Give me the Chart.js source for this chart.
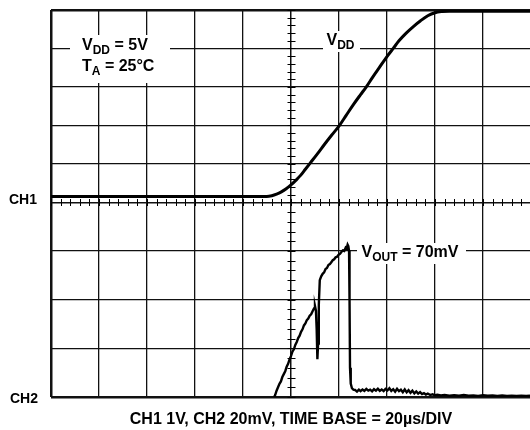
<!DOCTYPE html>
<html><head><meta charset="utf-8">
<script src="https://cdn.jsdelivr.net/npm/chart.js@4/dist/chart.umd.min.js"></script>
<style>html,body{margin:0;padding:0;background:#fff;}#wrap{width:530px;height:430px;}</style>
</head><body><div id="wrap"><canvas id="c" width="530" height="430"></canvas></div>
<script>
// ---- data (time in µs, CH1 in V, CH2 in mV) ----
const timeTicks = [0, 20, 40, 60, 80, 100, 120, 140, 160, 180];
const ch1Ticks = [0, 1, 2, 3, 4, 5];
const ch2Ticks = [0, 20, 40, 60, 80];

const ch1Time  = [0, 40, 85, 89.9, 92, 94, 96, 98, 100, 102, 104, 106, 108, 111, 114, 117, 120, 123, 126, 129, 131.25, 134, 137, 140, 142.6, 145, 148, 151, 154, 157, 160, 163, 166, 199.6];
const ch1Volts = [0.15, 0.15, 0.15, 0.15, 0.17, 0.21, 0.27, 0.35, 0.45, 0.57, 0.70, 0.86, 1.02, 1.26, 1.51, 1.75, 1.98, 2.26, 2.54, 2.80, 2.99, 3.25, 3.52, 3.79, 4.0, 4.2, 4.40, 4.57, 4.72, 4.85, 4.93, 4.96, 4.97, 4.97];

const ch2Time = [93.0, 93.4, 94.0, 94.6, 95.2, 95.8, 96.4, 97.0, 97.6, 98.2, 98.8, 99.4, 100.0, 100.6, 101.2, 101.8, 102.4, 103.0, 103.6, 104.2, 104.8, 105.4, 106.0, 106.6, 107.2, 107.8, 108.4, 109.0, 109.6, 110.0, 110.4, 110.7, 111.0, 111.3, 111.6, 112.0, 112.6, 113.2, 113.8, 114.4, 115.0, 115.6, 116.2, 116.8, 117.4, 118.0, 118.6, 119.2, 119.8, 120.4, 121.0, 121.6, 122.2, 122.8, 123.2, 123.6, 123.9, 124.2, 124.4, 124.6, 124.9, 125.4, 126.0, 126.7, 127.5, 128.3, 129.0, 129.8, 130.6, 131.4, 132.2, 133.0, 133.8, 134.6, 135.4, 136.2, 137.0, 137.8, 138.6, 139.4, 140.2, 141.0, 141.8, 142.6, 143.4, 144.2, 145.0, 145.8, 146.6, 147.4, 148.2, 149.0, 149.8, 150.6, 151.4, 152.2, 153.0, 153.8, 154.6, 155.4, 156.2, 157.0, 158.0, 159.0, 160.0, 161.0, 162.5, 164, 166, 168, 170, 172, 174, 176, 178, 180, 182, 184, 186, 188, 190, 192, 194, 196, 198, 199.6];
const ch2MilliVolts = [0, 0.8, 2.6, 4.0, 5.4, 6.4, 8.2, 9.4, 10.6, 12.4, 13.6, 15.4, 16.8, 18.6, 19.6, 21.4, 22.6, 24.2, 25.2, 26.8, 27.8, 29.4, 30.2, 31.6, 32.2, 33.4, 34.0, 35.2, 36.4, 37.4, 35.5, 28, 15.5, 22, 38, 48.0, 49.6, 50.6, 51.2, 52.6, 53.0, 54.2, 54.6, 55.4, 56.2, 56.6, 57.4, 57.6, 58.4, 58.8, 59.6, 60.2, 60.0, 61.4, 61.0, 62.6, 62.0, 60, 40, 12, 5.5, 3.6, 3.0, 2.9, 2.2, 3.0, 2.4, 3.1, 2.5, 3.3, 2.6, 3.0, 2.3, 3.2, 2.6, 3.4, 2.5, 3.1, 2.4, 3.3, 2.7, 3.6, 2.5, 3.2, 2.2, 3.4, 2.4, 3.0, 2.0, 3.1, 1.9, 2.8, 1.7, 2.6, 1.5, 2.3, 1.4, 2.0, 1.2, 1.6, 1.0, 1.4, 0.8, 1.1, 0.7, 0.9, 0.6, 0.8, 0.5, 0.7, 0.5, 0.8, 0.5, 0.6, 0.4, 0.7, 0.5, 0.6, 0.4, 0.6, 0.4, 0.5, 0.4, 0.5, 0.4, 0.5];

const FONT = '"Liberation Sans", Arial, Helvetica, sans-serif';
const INK = '#000';
const GRID = '#111';

function pts(xs, ys) { return xs.map((x, i) => ({x: x, y: ys[i]})); }

function drawRich(ctx, parts, x, baseline, size) {
  let cx = x;
  for (const p of parts) {
    const fs = p.sub ? Math.round(size * 0.75) : size;
    ctx.font = 'bold ' + fs + 'px ' + FONT;
    ctx.fillText(p.t, cx, baseline + (p.sub ? 4 : 0));
    cx += ctx.measureText(p.t).width;
  }
}

const scopePlugin = {
  id: 'scope',
  beforeDatasetsDraw(chart) {
    const ctx = chart.ctx, xs = chart.scales.x, y1 = chart.scales.yCh1, y2 = chart.scales.yCh2;
    const ca = chart.chartArea;
    ctx.save();
    ctx.strokeStyle = INK; ctx.lineWidth = 1;
    // minor ticks on horizontal center line
    const yc = Math.round(y1.getPixelForValue(0)) + 0.5;
    ctx.beginPath();
    for (let t = 0; t <= 200; t += 4) {
      const px = Math.round(xs.getPixelForValue(t)) + 0.5;
      if (px > ca.right) break;
      ctx.moveTo(px, yc - 3.5); ctx.lineTo(px, yc + 3.5);
    }
    // minor ticks on vertical center line
    const xc = Math.round(xs.getPixelForValue(100)) + 0.5;
    for (let v = 0; v <= 5.001; v += 0.2) {
      const py = Math.round(y1.getPixelForValue(v)) + 0.5;
      ctx.moveTo(xc - 4, py); ctx.lineTo(xc + 4, py);
    }
    for (let v = 0; v <= 80.001; v += 4) {
      const py = Math.round(y2.getPixelForValue(v)) + 0.5;
      ctx.moveTo(xc - 4, py); ctx.lineTo(xc + 4, py);
    }
    ctx.stroke();
    ctx.restore();
  },
  afterDatasetsDraw(chart) {
    const ctx = chart.ctx;
    ctx.save();
    // white label backgrounds (break the graticule)
    ctx.fillStyle = '#fff';
    ctx.fillRect(70, 35, 100, 48);
    ctx.fillRect(323, 31, 37, 21);
    ctx.fillRect(357, 243, 109, 21);
    ctx.fillStyle = INK;
    ctx.textBaseline = 'alphabetic';
    ctx.textAlign = 'left';
    drawRich(ctx, [{t: 'V'}, {t: 'DD', sub: true}, {t: ' = 5V'}], 82, 49.5, 16);
    drawRich(ctx, [{t: 'T'}, {t: 'A', sub: true}, {t: ' = 25°C'}], 82, 71, 16);
    drawRich(ctx, [{t: 'V'}, {t: 'DD', sub: true}], 326.5, 44.5, 16);
    drawRich(ctx, [{t: 'V'}, {t: 'OUT', sub: true}, {t: ' = 70mV'}], 361.5, 256.5, 16);
    // channel markers
    ctx.font = 'bold 14px ' + FONT;
    ctx.fillText('CH1', 9, 204);
    ctx.fillText('CH2', 10, 402.5);
    // bottom caption
    ctx.font = 'bold 16px ' + FONT;
    ctx.textAlign = 'center';
    ctx.fillText('CH1 1V, CH2 20mV, TIME BASE = 20µs/DIV', 291, 424);
    ctx.restore();
  }
};

function gridW(edge, center) {
  return ctx => {
    const v = ctx.tick ? ctx.tick.value : null;
    if (v === edge) return 2.5;
    if (v === center) return 1.5;
    return 1.3;
  };
}

new Chart(document.getElementById('c'), {
  type: 'scatter',
  data: {
    datasets: [
      { label: 'CH1 (V_DD)', data: pts(ch1Time, ch1Volts), xAxisID: 'x', yAxisID: 'yCh1',
        showLine: true, borderColor: INK, borderWidth: 3, pointRadius: 0,
        cubicInterpolationMode: 'monotone' },
      { label: 'CH2 (V_OUT)', data: pts(ch2Time, ch2MilliVolts), xAxisID: 'x', yAxisID: 'yCh2',
        showLine: true, borderColor: INK, borderWidth: 2.4, pointRadius: 0, tension: 0 }
    ]
  },
  options: {
    responsive: false, animation: false, devicePixelRatio: 1,
    layout: { padding: { left: 51, top: 10, right: 0, bottom: 33 } },
    plugins: { legend: { display: false }, tooltip: { enabled: false }, title: { display: false } },
    scales: {
      x: {
        type: 'linear', position: 'bottom', min: 0, max: 199.6,
        afterBuildTicks: s => { s.ticks = timeTicks.map(v => ({value: v})); },
        afterFit: s => { s.height = 0; },
        ticks: { display: false },
        border: { display: false },
        grid: { drawTicks: false, color: GRID, lineWidth: gridW(0, 100) }
      },
      yCh2: {
        type: 'linear', position: 'left', stack: 'scope', stackWeight: 194.7, min: 0, max: 80,
        afterBuildTicks: s => { s.ticks = ch2Ticks.map(v => ({value: v})); },
        afterFit: s => { s.width = 0; },
        ticks: { display: false },
        border: { display: false },
        grid: { drawTicks: false, color: GRID,
          lineWidth: ctx => ctx.tick && ctx.tick.value === 0 ? 2.5 : (ctx.tick && ctx.tick.value === 80 ? 0 : 1.3) }
      },
      yCh1: {
        type: 'linear', position: 'left', stack: 'scope', stackWeight: 192.3, min: 0, max: 5,
        afterBuildTicks: s => { s.ticks = ch1Ticks.map(v => ({value: v})); },
        afterFit: s => { s.width = 0; },
        ticks: { display: false },
        border: { display: false },
        grid: { drawTicks: false, color: GRID, lineWidth: gridW(5, 0) }
      }
    }
  },
  plugins: [scopePlugin]
});
</script>
</body></html>
